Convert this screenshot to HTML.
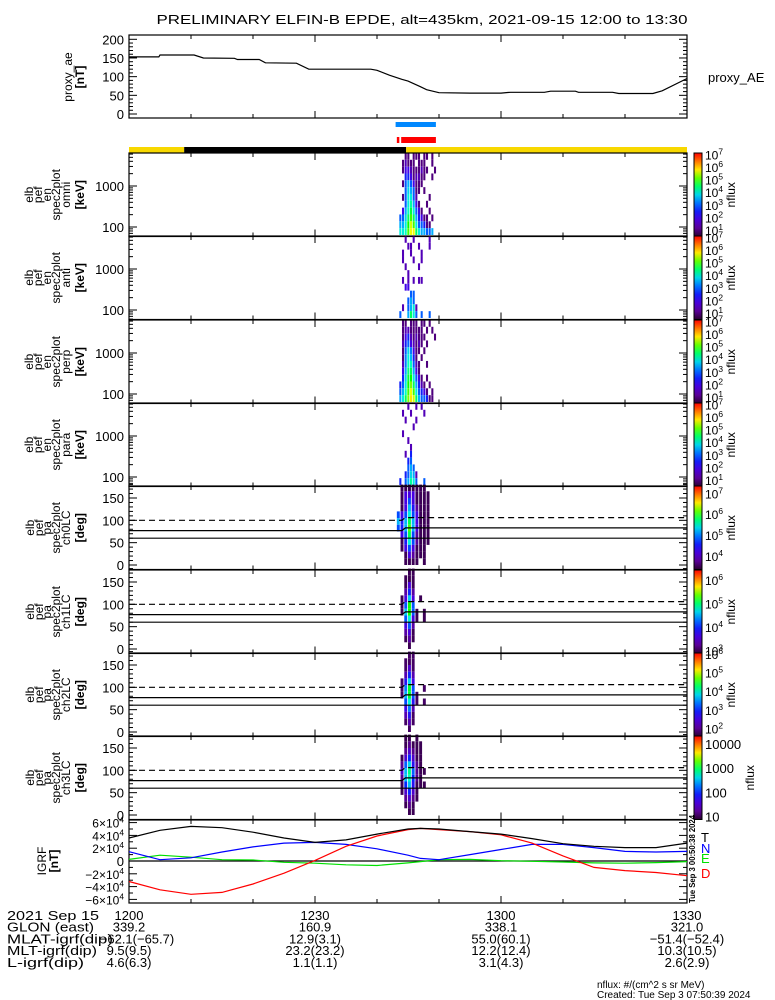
<!DOCTYPE html>
<html><head><meta charset="utf-8"><title>ELFIN-B EPDE</title>
<style>
html,body{margin:0;padding:0;background:#fff;}
svg{display:block;font-family:"Liberation Sans",sans-serif;}
</style></head>
<body>
<svg id="chart" width="775" height="1000" viewBox="0 0 775 1000" xmlns="http://www.w3.org/2000/svg">
<rect x="0" y="0" width="775" height="1000" fill="#fff"/>
<text x="422" y="24" text-anchor="middle" font-size="13" textLength="531" lengthAdjust="spacingAndGlyphs">PRELIMINARY ELFIN-B EPDE, alt=435km, 2021-09-15 12:00 to 13:30</text>
<g id="layer"></g>
</svg>
<script>
// ---------- data ----------
const aeTimes = [0,4.8,5,10.5,12,17,17.5,21,22,27,29,39,40,42,44,45,47,48,50,55,60,61.5,67,68,72,72.5,78,79,84.5,86,90];
const aeValues = [153,153,158,158,150,149,146,146,137,136,120,120,117,104,93,88,73,65,57,56,56,58,58,61,61,58,58,55,55,62,95];

const blueBar = [43.0,49.5];
const redBars = [[43.2,43.6],[43.9,49.5]];
const sunBars = [[0,8.9,'#f8d800'],[8.9,44.7,'#000'],[44.7,90,'#f8d800']];

const igrfTimes = [0,5,10,15,20,25,30,35,40,45,47,50,55,60,65,70,75,80,85,90];
const igrfT = [3.6,4.8,5.4,5.2,4.5,3.6,2.9,3.3,4.2,5.0,5.1,5.0,4.6,4.2,3.5,2.7,2.3,2.1,2.1,2.8];
const igrfN = [1.45,0.2,0.5,1.4,2.2,2.8,2.9,2.6,1.9,0.9,0.4,0.2,1.0,1.8,2.6,2.6,2.1,1.5,1.4,1.5];
const igrfE = [0.25,0.9,0.6,0.2,0.15,-0.2,-0.35,-0.6,-0.7,-0.3,-0.1,0.2,0.25,0.05,-0.05,-0.15,-0.3,-0.35,-0.25,-0.1];
const igrfD = [-3.2,-4.5,-5.2,-4.9,-3.6,-1.9,0.1,2.3,3.9,4.9,5.1,4.9,4.6,4.1,2.8,0.8,-1.0,-1.5,-1.8,-2.3];

// energy spectrogram columns (minutes after 12:00) and bins (log10 keV, top edge)
const enTimes = [43.6,44.03,44.46,44.89,45.32,45.75,46.18,46.61,47.04,47.47,47.9,48.33,48.76,49.19];
const enBinTops = [3.806,3.639,3.472,3.306,3.139,2.972,2.806,2.639,2.472,2.306,2.139,1.972];
const omniFlux = [
[0,0,1,1,0,1,1,1,0,1,1,0,1,0],
[0,1,1.5,1,1,1,0,1,1,1,0,0,1,0],
[0,1,2,2,1.5,1,1,1,1.5,1,1,0,0,1],
[0,0,2.5,2.5,2,1,1.5,1.5,1,1,0,0,1,0],
[0,1,3,3.5,3,2,1,1,1,0,0,0,0,0],
[0,0,3,3.8,3.5,3,1,1,0,1,0,0,0,0],
[0,1,3,4,4,3,1.5,0,0,0,0,1,0,0],
[0,0,3,4,4.3,3.5,2,1,0,0,1,0,0,0],
[0,2,3.5,4.2,4.6,4,3,2,1,0,0,1,0,0],
[3,3,3.8,4.5,5,4.5,3.5,2.5,2,1,1,0,1,0],
[3.5,3.5,4,4.8,5.5,5,4,3,3,2.5,1,1,0,0],
[4,4,4.2,5,5.6,5.6,4.5,4,3.5,3.5,3,3,3.5,0]];
const antiFlux = [
[0,0,1.5,0,0,1.5,0,0,0,0,0,1.5,0,0],
[0,0,0,1.5,1.5,0,0,1.5,0,0,0,1.5,0,0],
[0,1.5,0,0,1.5,0,0,0,1.5,0,0,0,0,0],
[0,1.5,0,0,0,1.5,0,0,1.5,0,0,0,0,0],
[0,0,1.5,0,0,0,0,1.5,0,0,0,0,0,0],
[0,0,0,1.5,0,0,0,0,0,0,0,0,0,0],
[0,1.5,0,1.5,0,1.5,0,1.5,1.5,0,0,0,0,0],
[0,0,2,2,0,0,0,0,0,0,0,0,0,0],
[0,0,0,0,3,3,0,0,0,0,0,0,0,0],
[0,0,0,3,3.5,3,0,0,0,0,0,0,0,0],
[0,1.5,0,3,3.5,4,1.5,0,0,0,0,0,0,0],
[3,0,0,3.5,4.5,4,3,0,3,0,0,3,0,0]];
const perpFlux = [
[0,1,1,0,1,1,1,0,1,1,0,1,0,0],
[0,1,1.5,1.5,1,1,1,1,1,0,1,0,1,0],
[0,1,2,2.5,1.5,1,1.5,1,1,1,0,0,0,1],
[0,1.5,2.5,3,2,1.5,1,1.5,1,0,1,0,0,0],
[0,1,3,3.8,3.2,2,1,1,0,1,0,0,0,0],
[0,1,3.2,4,3.6,2.5,1,0,1,0,0,0,0,0],
[0,1.5,3.2,4.2,4.2,3,1.5,1,0,0,1,0,0,0],
[0,2,3.5,4.4,4.5,3.5,2,1,0,0,0,0,0,0],
[0,2.5,3.8,4.6,4.8,4,3,2,1,0,1,0,0,0],
[2.5,3,4,4.8,5.2,4.5,3.5,2.5,1.5,1,0,1,0,0],
[3,3.5,4.2,5,5.6,5,4,3,2.5,2,1,0,1,0],
[3.5,4,4.5,5.2,5.8,5.5,4.5,3.5,3,3,2.5,1,1,0]];
const paraFlux = [
[0,0,0,1.5,0,0,1.5,0,1.5,0,0,0,0,0],
[0,1.5,0,0,1.5,0,0,0,0,1.5,0,0,0,0],
[0,0,1.5,0,0,0,1.5,0,0,0,0,0,0,0],
[0,0,0,0,0,1.5,0,0,0,0,0,0,0,0],
[0,1.5,0,0,0,0,0,0,0,0,0,0,0,0],
[0,0,0,1.5,0,0,0,0,0,0,0,0,0,0],
[0,0,0,0,1.5,0,0,0,0,0,0,0,0,0],
[0,0,1.5,0,2.5,0,0,0,0,0,0,0,0,0],
[0,0,0,2.5,3,0,0,0,0,0,0,0,0,0],
[0,0,0,3,3.5,3,0,0,0,0,0,0,0,0],
[0,0,2.5,3,3.8,3.5,1.5,0,0,0,0,0,0,0],
[2.5,0,3,3.5,4.3,4,3,0,0,3,0,0,0,0]];

// pitch angle spectrograms: columns (minutes) and 15-degree bins (top edge)
const paTimes = [43.2,43.8,44.4,45.0,45.6,46.2,46.8,47.4,48.0,48.6];
const paBinTops = [180,165,150,135,120,105,90,75,60,45,30,15];
const ch0Flux = [
[0,3.5,3.5,3.5,3.5,3.5,3.5,3.5,0,0],
[0,3.5,4.2,4.2,4.2,3.5,3.5,3.5,3.5,0],
[0,3.5,4.2,4.8,4.2,3.5,3.5,3.5,3.5,0],
[0,3.5,4.2,5.2,4.5,3.8,3.5,3.5,3.5,0],
[4.8,4.2,4.8,5.5,4.8,4.2,3.5,3.5,3.5,0],
[5.2,4.5,5.2,5.8,5.2,4.2,3.5,3.5,3.5,0],
[4.8,4.5,5.2,6.1,5.2,4.2,3.5,3.5,3.5,0],
[0,4.2,4.8,5.8,4.8,3.8,3.5,3.5,3.5,0],
[0,3.5,4.5,5.5,4.8,3.8,3.5,3.5,3.5,0],
[0,3.5,4.2,4.8,4.2,3.5,3.5,3.5,0,0],
[0,0,3.5,4.2,3.8,3.5,3.5,3.5,0,0],
[0,0,3.5,3.5,3.5,3.5,0,3.5,0,0]];
const ch1Flux = [
[0,0,0,3.0,3.0,0,0,0,0,0],
[0,0,3.0,3.0,3.0,0,0,0,0,0],
[0,0,3.0,3.6,3.0,0,0,0,0,0],
[0,0,3.3,4.0,3.3,0,0,0,0,0],
[0,3.0,3.6,4.6,3.6,0,3.0,0,0,0],
[0,3.0,4.2,5.2,4.2,0,0,0,0,0],
[0,3.0,4.6,5.2,4.2,3.0,0,3.0,0,0],
[0,0,4.2,4.8,3.6,3.0,0,3.0,0,0],
[0,0,3.6,4.2,3.3,0,0,0,0,0],
[0,0,3.3,3.6,3.0,0,0,0,0,0],
[0,0,3.0,3.3,3.0,0,0,0,0,0],
[0,0,0,3.0,0,0,0,0,0,0]];
const ch2Flux = [
[0,0,0,1.8,1.8,0,0,0,0,0],
[0,0,1.8,1.8,1.8,0,0,0,0,0],
[0,0,1.8,2.4,1.8,0,0,0,0,0],
[0,0,2.2,3.0,2.2,0,0,0,0,0],
[0,1.8,2.8,3.8,2.6,0,0,0,0,0],
[0,1.8,3.4,4.4,3.2,0,0,1.8,0,0],
[0,1.8,3.6,4.4,3.2,1.8,0,0,0,0],
[0,0,3.2,4.0,2.8,1.8,0,1.8,0,0],
[0,0,2.6,3.4,2.2,0,0,0,0,0],
[0,0,2.2,2.8,1.8,0,0,0,0,0],
[0,0,1.8,2.2,1.8,0,0,0,0,0],
[0,0,0,1.8,0,0,0,0,0,0]];
const ch3Flux = [
[0,0,1.0,1.0,0,1.0,0,0,0,0],
[0,0,1.0,1.2,1.0,1.0,1.0,0,0,0],
[0,0,1.2,1.5,1.2,1.0,1.0,0,0,0],
[0,1.0,1.5,2.0,1.5,1.0,1.0,0,0,0],
[0,1.2,2.2,2.6,1.8,1.2,1.0,0,0,0],
[0,1.5,2.5,2.9,2.2,1.2,1.0,1.0,0,0],
[0,1.2,2.5,2.8,2.0,1.2,1.0,0,0,0],
[0,1.0,2.0,2.5,1.8,1.0,1.0,1.0,0,0],
[0,1.0,1.5,2.0,1.5,1.0,0,0,0,0],
[0,0,1.2,1.5,1.2,1.0,0,0,0,0],
[0,0,1.0,1.2,1.0,0,0,0,0,0],
[0,0,0,1.0,1.0,0,0,0,0,0]];

const dashTimes = [0,44,44.6,90];
const dashDeg = [100,100,106,106];
const lc1Deg = [77,77,83,83];
const lc2Deg = [60,60,60,60];

// ---------- geometry ----------
const X0=129, X1=687;
const xs = m => X0 + m*(X1-X0)/90;
const NS='http://www.w3.org/2000/svg';
const layer=document.getElementById('layer');
function mk(tag, attrs, parent){
  const e=document.createElementNS(NS,tag);
  for(const k in attrs) e.setAttribute(k,attrs[k]);
  (parent||layer).appendChild(e); return e;
}
const stops=[[0,42,0,48],[0.1,90,0,150],[0.22,70,0,230],[0.33,0,40,255],[0.45,0,170,255],[0.55,0,255,210],[0.65,0,255,0],[0.78,255,255,0],[0.88,255,140,0],[1,255,0,0]];
function cmap(t){
  t=Math.max(0,Math.min(1,t));
  for(let i=1;i<stops.length;i++){ if(t<=stops[i][0]){const a=stops[i-1],b=stops[i],f=(t-a[0])/(b[0]-a[0]);
    return 'rgb('+[1,2,3].map(j=>Math.round(a[j]+f*(b[j]-a[j]))).join(',')+')';}}
  return 'rgb(255,0,0)';
}
function sup(t,x,y,base,exp,fs,anchor,name){
  const e=mk('text',{x:x,y:y,'font-size':fs,'text-anchor':anchor||'start'});
  
  
  const a=document.createElementNS(NS,'tspan');a.textContent=base;e.appendChild(a);
  if(exp!==null){const b=document.createElementNS(NS,'tspan');b.setAttribute('dy','-5');b.setAttribute('font-size',fs*0.7);b.textContent=exp;e.appendChild(b);}
  return e;
}
function frame(top,bot,name){
  const r=mk('rect',{x:X0,y:top,width:X1-X0,height:bot-top,fill:'none',stroke:'#000','stroke-width':1.2});
  
  
  for(let m=0;m<=90;m+=10){const L=(m%30===0)?7:4;
    mk('line',{x1:xs(m),x2:xs(m),y1:bot,y2:bot-L,stroke:'#000'});
    mk('line',{x1:xs(m),x2:xs(m),y1:top,y2:top+L,stroke:'#000'});}
}
function ytick(y,major){const L=major?8:4;
  mk('line',{x1:X0,x2:X0+L,y1:y,y2:y,stroke:'#000'});
  mk('line',{x1:X1,x2:X1-L,y1:y,y2:y,stroke:'#000'});}
function ylab(lines,xsPos,cy,name){
  const g=mk('g',{});
  
  
  lines.forEach((s,i)=>{const t=mk('text',{x:xsPos[i],y:cy,'font-size':12,'text-anchor':'middle',transform:'rotate(-90 '+xsPos[i]+' '+cy+')','font-weight':s[0]==='['?'bold':'normal'},g);t.textContent=s;});
}

// ---------- proxy AE panel ----------
const aeY = v => 114 - v*0.3735;
frame(35,118,'proxy-ae-frame');
[0,50,100,150,200].forEach(v=>{ytick(aeY(v),true);
  const t=mk('text',{x:124,y:aeY(v)+5,'font-size':13,'text-anchor':'end'});t.textContent=v;
  });
for(let v=10;v<200;v+=10) if(v%50) ytick(aeY(v),false);
let d='';aeTimes.forEach((m,i)=>{d+=(i?'L':'M')+xs(m).toFixed(1)+' '+aeY(aeValues[i]).toFixed(1);});
const ael=mk('path',{d:d,fill:'none',stroke:'#000','stroke-width':1.2});


ylab(['proxy_ae','[nT]'],[72,84],77,'proxy-ae-y-title');
let t0=mk('text',{x:708,y:82,'font-size':13});t0.textContent='proxy_AE';


// ---------- bars ----------
let bb=mk('rect',{x:xs(blueBar[0]),y:122,width:xs(blueBar[1])-xs(blueBar[0]),height:5,fill:'#0088ff'});

redBars.forEach(s=>{const r=mk('rect',{x:xs(s[0]),y:137,width:xs(s[1])-xs(s[0]),height:6,fill:'#ff0000'});
  });
sunBars.forEach(s=>{const r=mk('rect',{x:xs(s[0]),y:147,width:xs(s[1])-xs(s[0]),height:6,fill:s[2]});
  });

// ---------- spectrogram panels ----------
const tops=[153,236,320,403,486,570,653,736];
const H=83.5;
const cbRanges=[[0.5,7.1],[0.5,7.1],[0.5,7.1],[0.5,7.1],[3.35,7.35],[2.87,6.43],[1.57,6.05],[0.88,4.32]];
const cbLabels=[[1,2,3,4,5,6,7],[1,2,3,4,5,6,7],[1,2,3,4,5,6,7],[1,2,3,4,5,6,7],[4,5,6,7],[3,4,5,6],[2,3,4,5,6],[1,2,3,4]];
const enData=[omniFlux,antiFlux,perpFlux,paraFlux];
const enNames=['omni','anti','perp','para'];
const paData=[ch0Flux,ch1Flux,ch2Flux,ch3Flux];
const paNames=['ch0LC','ch1LC','ch2LC','ch3LC'];

tops.forEach((top,p)=>{
  const bot=top+H, rng=cbRanges[p];
  const norm=v=>(v-rng[0])/(rng[1]-rng[0]);
  const g=mk('g',{});
  
  
  if(p<4){
    const ey=l=>top+33-(l-3)*41;
    const M=enData[p], dt=enTimes[1]-enTimes[0];
    M.forEach((row,i)=>row.forEach((v,j)=>{ if(!v) return;
      const c=mk('rect',{x:xs(enTimes[j]),y:ey(enBinTops[i]),width:xs(enTimes[j]+dt)-xs(enTimes[j])-0.6,height:ey(enBinTops[i]-1/6)-ey(enBinTops[i]),fill:cmap(norm(v))},g);
      
      
    }));
    frame(top,bot,'panel-frame-'+enNames[p]);
    [1,2,3].forEach(dec=>{for(let k=1;k<10;k++){const y=ey(dec+Math.log10(k)); if(y>top&&y<bot) ytick(y,k===1);}});
    [[3,'1000'],[2,'100']].forEach(a=>{const t=mk('text',{x:124,y:ey(a[0])+5,'font-size':13,'text-anchor':'end'});t.textContent=a[1];
      });
    ylab(['elb','pef','en','spec2plot',enNames[p],'[keV]'],[33,42,51,60,70,84],top+H/2,'y-title-'+enNames[p]);
  } else {
    const py=deg=>top+79-deg*0.4467;
    const M=paData[p-4], dt=paTimes[1]-paTimes[0];
    M.forEach((row,i)=>row.forEach((v,j)=>{ if(!v) return;
      const c=mk('rect',{x:xs(paTimes[j]),y:py(paBinTops[i]),width:xs(paTimes[j]+dt)-xs(paTimes[j])-0.8,height:py(paBinTops[i]-15)-py(paBinTops[i]),fill:cmap(norm(v))},g);
      
      
    }));
    const mkLine=(arr,dash,name)=>{let s='';dashTimes.forEach((m,i)=>{s+=(i?'L':'M')+xs(m).toFixed(1)+' '+py(arr[i]).toFixed(1);});
      const l=mk('path',{d:s,fill:'none',stroke:'#000','stroke-width':1.2,'stroke-dasharray':dash?'6,4':'none'});
      };
    mkLine(dashDeg,true,'anti-loss-cone-line');mkLine(lc1Deg,false,'loss-cone-line');mkLine(lc2Deg,false,'perp-line');
    frame(top,bot,'panel-frame-'+paNames[p-4]);
    for(let deg=0;deg<=180;deg+=10) ytick(py(deg),deg%50===0);
    [150,100,50,0].forEach(v=>{const t=mk('text',{x:124,y:py(v)+5,'font-size':13,'text-anchor':'end'});t.textContent=v;
      });
    ylab(['elb','pef','pa','spec2plot',paNames[p-4],'[deg]'],[34,43,51,60,70,84],top+H/2,'y-title-'+paNames[p-4]);
  }
  // colorbar
  const gid='cg'+p;
  const lg=mk('linearGradient',{id:gid,x1:0,y1:1,x2:0,y2:0});
  for(let k=0;k<=10;k++) mk('stop',{offset:k/10,'stop-color':cmap(k/10)},lg);
  const cb=mk('rect',{x:694,y:top,width:8,height:H,fill:'url(#'+gid+')',stroke:'#000','stroke-width':1});
  
  
  const cy=l=>bot-(l-rng[0])/(rng[1]-rng[0])*H;
  cbLabels[p].forEach(l=>{
    if(p===7) sup(null,705,cy(l)+5,String(Math.pow(10,l)),null,13,'start','colorbar-label');
    else sup(null,705,cy(l)+5,'10',String(l),12,'start','colorbar-label');
  });
  const nx=p===7?754:735;
  const nt=mk('text',{x:nx,y:top+H/2,'font-size':12,'text-anchor':'middle',transform:'rotate(-90 '+nx+' '+(top+H/2)+')'});
  nt.textContent='nflux';
});

// ---------- IGRF panel ----------
const iy=v=>861-v*6.4;
frame(820,903,'igrf-frame');
for(let v=-6;v<=6;v++) ytick(iy(v),v%2===0);
[6,4,2,-2,-4,-6].forEach(v=>sup(null,124,iy(v)+5,(v<0?'\u2212':'')+Math.abs(v)+'\u00d710','4',12,'end','igrf-tick-label'));
let zt=mk('text',{x:124,y:iy(0)+5,'font-size':13,'text-anchor':'end'});zt.textContent='0';

let zl=mk('line',{x1:X0,x2:X1,y1:iy(0),y2:iy(0),stroke:'#000','stroke-width':1.2});

[[igrfE,'#00e000','igrf-e-line'],[igrfN,'#0000ff','igrf-n-line'],[igrfD,'#ff0000','igrf-d-line'],[igrfT,'#000','igrf-t-line']].forEach(s=>{
  let q='';igrfTimes.forEach((m,i)=>{q+=(i?'L':'M')+xs(m).toFixed(1)+' '+iy(s[0][i]).toFixed(1);});
  const l=mk('path',{d:q,fill:'none',stroke:s[1],'stroke-width':1.2});
  
});
ylab(['IGRF','[nT]'],[46,58],861,'igrf-y-title');
[['T',842,'#000'],['N',853,'#0000ff'],['E',863,'#00e000'],['D',878,'#ff0000']].forEach(a=>{
  const t=mk('text',{x:701,y:a[1],'font-size':13,fill:a[2]});t.textContent=a[0];
  });
let st=mk('text',{x:695,y:903,'font-size':8,'font-weight':'bold',transform:'rotate(-90 695 903)',textLength:88,lengthAdjust:'spacingAndGlyphs'});
st.textContent='Tue Sep  3 00:50:38 2024';

// ---------- footer ----------
const footRows=[
 ['2021 Sep 15',['1200','1230','1300','1330']],
 ['GLON (east)',['339.2','160.9','338.1','321.0']],
 ['MLAT-igrf(dip)',['-62.1(-65.7)','12.9(3.1)','55.0(60.1)','-51.4(-52.4)']],
 ['MLT-igrf(dip)',['9.5(9.5)','23.2(23.2)','12.2(12.4)','10.3(10.5)']],
 ['L-igrf(dip)',['4.6(6.3)','1.1(1.1)','3.1(4.3)','2.6(2.9)']]];
const footMins=[0,30,60,90];
const footLen=[92,87,106,90,77];
footRows.forEach((r,i)=>{const y=920+i*11.7;
  const t=mk('text',{x:7,y:y,'font-size':13,textLength:footLen[i],lengthAdjust:'spacingAndGlyphs'});t.textContent=r[0];
  
  r[1].forEach((s,j)=>{const v=mk('text',{x:xs(footMins[j])+(i===2&&j===0?8:0),y:y,'font-size':13,'text-anchor':'middle'});v.textContent=s.replace(/-/g,'\u2212');
    });
});
let n1=mk('text',{x:597,y:988,'font-size':10});n1.textContent='nflux: #/(cm^2 s sr MeV)';

let n2=mk('text',{x:597,y:998,'font-size':10});n2.textContent='Created: Tue Sep  3 07:50:39 2024';

</script>
</body></html>
